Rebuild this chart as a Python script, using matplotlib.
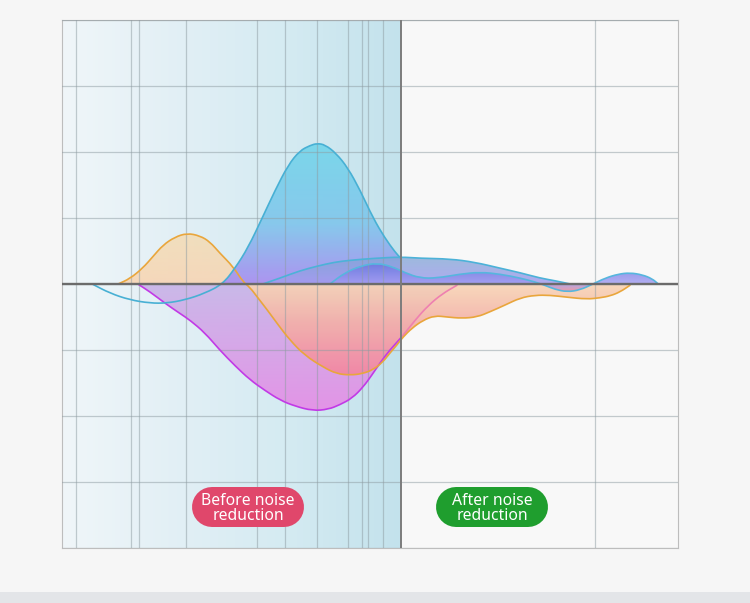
import numpy as np
import matplotlib
matplotlib.use("Agg")
import matplotlib.pyplot as plt
from matplotlib.patches import PathPatch, Rectangle
from matplotlib.lines import Line2D
from matplotlib.path import Path
from matplotlib.colors import to_rgb
from matplotlib.transforms import IdentityTransform

# grid positions (chart units, x 0..100, y -4..4)
grid_x = [2.3, 11.2, 12.5, 20.1, 31.7, 36.2, 41.4, 46.4, 48.7, 49.7, 52.1, 86.5]
grid_y = [-4, -3, -2, -1, 0, 1, 2, 3, 4]
split_x = 55.0  # before / after boundary

# cyan bell (before)
bell_x = np.array([4.9, 7.8, 11.0, 14.3, 17.0, 20.0, 23.2, 26.1, 28.1, 30.2, 32.5, 34.6,
                   36.7, 38.6, 40.3, 41.4, 42.7, 44.5, 46.4, 48.4, 50.5, 52.4, 54.1, 55.0])
bell_y = np.array([0, -0.14, -0.24, -0.29, -0.29, -0.24, -0.14, 0, 0.24, 0.55, 1.00, 1.42,
                   1.80, 2.02, 2.10, 2.13, 2.11, 1.98, 1.76, 1.42, 1.00, 0.70, 0.48, 0.39])

# wide blue hump
hump_x = np.array([32.6, 35.4, 38.6, 41.4, 44.2, 46.8, 50.8, 55.0, 58.1, 63.0, 67.0, 71.1,
                   74.4, 77.6, 80.0, 82.5])
hump_y = np.array([0, 0.09, 0.20, 0.27, 0.33, 0.36, 0.39, 0.41, 0.39, 0.38, 0.33, 0.24,
                   0.17, 0.09, 0.05, 0])

# small wavy blue line
wave_x = np.array([43.5, 45.9, 48.4, 51.1, 53.7, 55.7, 58.1, 60.9, 64.6, 67.9, 71.1, 74.4,
                   76.8, 78.4, 80.0, 82.0, 84.1, 86.2, 88.2, 90.3, 92.2, 94.2, 95.8, 96.8])
wave_y = np.array([0, 0.17, 0.27, 0.32, 0.26, 0.17, 0.09, 0.09, 0.15, 0.18, 0.15, 0.09,
                   0.03, -0.02, -0.08, -0.12, -0.09, 0, 0.09, 0.15, 0.17, 0.14, 0.08, 0])

# orange line
orange_x = np.array([9.1, 11.0, 13.1, 14.8, 16.4, 18.3, 20.3, 22.4, 24.0, 25.6, 27.8, 29.4,
                     30.5, 31.8, 33.3, 35.1, 37.0, 39.4, 42.4, 44.6, 46.8, 48.7, 50.5, 52.1,
                     53.2, 54.4, 55.4, 56.8, 58.6, 60.5, 62.5, 64.9, 67.4, 69.5, 71.9, 74.4,
                     76.8, 79.2, 82.0, 85.2, 87.3, 89.0, 90.6, 92.2])
orange_y = np.array([0, 0.08, 0.24, 0.42, 0.59, 0.71, 0.77, 0.73, 0.64, 0.47, 0.26, 0.03,
                     -0.05, -0.21, -0.39, -0.62, -0.85, -1.08, -1.26, -1.36, -1.38, -1.36,
                     -1.30, -1.18, -1.05, -0.92, -0.80, -0.67, -0.55, -0.48, -0.50, -0.52,
                     -0.50, -0.42, -0.32, -0.21, -0.17, -0.17, -0.20, -0.23, -0.21, -0.18,
                     -0.12, -0.02])

# magenta line
mag_x = np.array([12.3, 14.3, 16.7, 19.2, 20.8, 23.2, 25.6, 28.1, 30.5, 32.9, 35.4, 37.8,
                  40.7, 43.2, 45.1, 47.1, 48.9, 50.3, 51.6, 53.2, 55.2, 57.3, 59.4, 61.7, 64.1])
mag_y = np.array([0, -0.12, -0.29, -0.45, -0.55, -0.74, -1.00, -1.24, -1.45, -1.61, -1.76,
                  -1.85, -1.92, -1.90, -1.83, -1.73, -1.56, -1.38, -1.20, -1.00, -0.80, -0.55,
                  -0.33, -0.15, -0.02])

labels = ["Before noise\nreduction", "After noise\nreduction"]
label_colors = ["#e0476b", "#1f9e2e"]
label_cx = [248, 492]  # pill centres, px


def smooth_path(xs, ys, close=False):
    """quadratic bezier path using the read points as control points"""
    pts = np.column_stack([xs, ys])
    verts = [pts[0], (pts[0] + pts[1]) / 2]
    codes = [Path.MOVETO, Path.LINETO]
    for i in range(1, len(pts) - 1):
        verts += [pts[i], (pts[i] + pts[i + 1]) / 2]
        codes += [Path.CURVE3, Path.CURVE3]
    verts.append(pts[-1])
    codes.append(Path.LINETO)
    if close:
        verts += [(xs[-1], 0), (xs[0], 0), (xs[0], 0)]
        codes += [Path.LINETO, Path.LINETO, Path.CLOSEPOLY]
    return Path(verts, codes)


def grad_fill(ax, xs, ys, stops, z):
    """fill the area between a curve and zero with a vertical colour gradient"""
    poly = PathPatch(smooth_path(xs, ys, close=True), facecolor="none", edgecolor="none")
    ax.add_patch(poly)
    stops = sorted(stops, key=lambda s: s[0])
    lv = np.array([s[0] for s in stops])
    cols = np.array([list(to_rgb(s[1])) + [s[2]] for s in stops])
    yy = np.linspace(lv[0], lv[-1], 256)
    img = np.stack([np.interp(yy, lv, cols[:, k]) for k in range(4)], axis=1)
    im = ax.imshow(img[:, None, :], extent=[xs.min(), xs.max(), lv[0], lv[-1]],
                   origin="lower", aspect="auto", zorder=z, interpolation="bilinear")
    im.set_clip_path(poly)


def curve(ax, xs, ys, color, clip=None):
    p = PathPatch(smooth_path(xs, ys), facecolor="none", edgecolor=color, lw=1.2,
                  zorder=3, capstyle="round", joinstyle="round")
    ax.add_patch(p)
    if clip is not None:
        r = Rectangle((clip[0], -4), clip[1] - clip[0], 8, transform=ax.transData)
        p.set_clip_path(r)


fig = plt.figure(figsize=(7.5, 6.03), dpi=100, facecolor="#f6f6f6")
fig.patches.append(Rectangle((0, 0), 1, 11 / 603, transform=fig.transFigure,
                             facecolor="#e3e5e8", edgecolor="none"))
ax = fig.add_axes([62 / 750, 55 / 603, 616 / 750, 528 / 603])
ax.set_facecolor("#f8f8f8")

# blue background on the "before" side
bg_stops = [(0, "#f0f6f9"), (20, "#e1eff5"), (36, "#d5ebf2"), (55, "#c3e2ec")]
bx = np.linspace(0, split_x, 256)
bg = np.stack([np.interp(bx, [s[0] for s in bg_stops], [to_rgb(s[1])[k] for s in bg_stops])
               for k in range(3)], axis=1)
ax.imshow(bg[None, :, :], extent=[0, split_x, -4, 4], aspect="auto", zorder=0.5,
          interpolation="bilinear")

grad_fill(ax, mag_x, mag_y, [(0, "#c8b4e8", 0.9), (-1.91, "#e58de6", 0.92)], 1.1)
grad_fill(ax, orange_x, orange_y, [(0.77, "#f4ddb4", 0.85), (0, "#f8d5b4", 0.9),
                                   (-0.6, "#f4b0a8", 0.92), (-1.38, "#f286a4", 0.95)], 1.2)
grad_fill(ax, bell_x, bell_y, [(2.13, "#76d6ea", 0.95), (0.9, "#82c6ec", 0.93),
                               (0, "#a98cf0", 0.92)], 1.3)
grad_fill(ax, hump_x, hump_y, [(0.41, "#7fa6d4", 0.75), (0, "#a49cf0", 0.85)], 1.4)
grad_fill(ax, wave_x, wave_y, [(0.32, "#6470e0", 0.8), (0, "#a29cf2", 0.8),
                               (-0.12, "#f0909c", 0.85)], 1.5)

curve(ax, mag_x, mag_y, "#c23ae6", clip=(0, split_x))
curve(ax, mag_x, mag_y, "#ee80b0", clip=(split_x, 100))
curve(ax, orange_x, orange_y, "#e9a63c")
curve(ax, bell_x, bell_y, "#48b0d4")
curve(ax, hump_x, hump_y, "#4cb2d8")
curve(ax, wave_x, wave_y, "#56b6de")

ax.axhline(0, color="#6b6b6b", lw=1.7, zorder=3.5)
ax.axvline(split_x, color="#7c7c7c", lw=1.4, zorder=3.5)

ax.set_xlim(0, 100)
ax.set_ylim(-4, 4)
ax.set_xticks(grid_x)
ax.set_yticks(grid_y)
ax.tick_params(length=0, labelbottom=False, labelleft=False)
ax.set_axisbelow(False)
ax.grid(color="#8e9ca2", lw=0.9, alpha=0.5)
for sp in ax.spines.values():
    sp.set_color("#bdbdbd")
    sp.set_linewidth(0.8)

# pill shaped labels (112 x 40 px): a thick line with round caps
for txt, c, cx in zip(labels, label_colors, label_cx):
    pill = Line2D([cx - 36, cx + 36], [96, 96], lw=40 * 72 / 100, color=c,
                  solid_capstyle="round", transform=IdentityTransform(), zorder=5)
    fig.add_artist(pill)
    fig.text(cx / 750, 94.5 / 603, txt, ha="center", va="center", color="white",
             fontsize=11.3, family="Noto Sans", linespacing=0.88, zorder=6)

fig.savefig("out.png", dpi=100, facecolor=fig.get_facecolor())
